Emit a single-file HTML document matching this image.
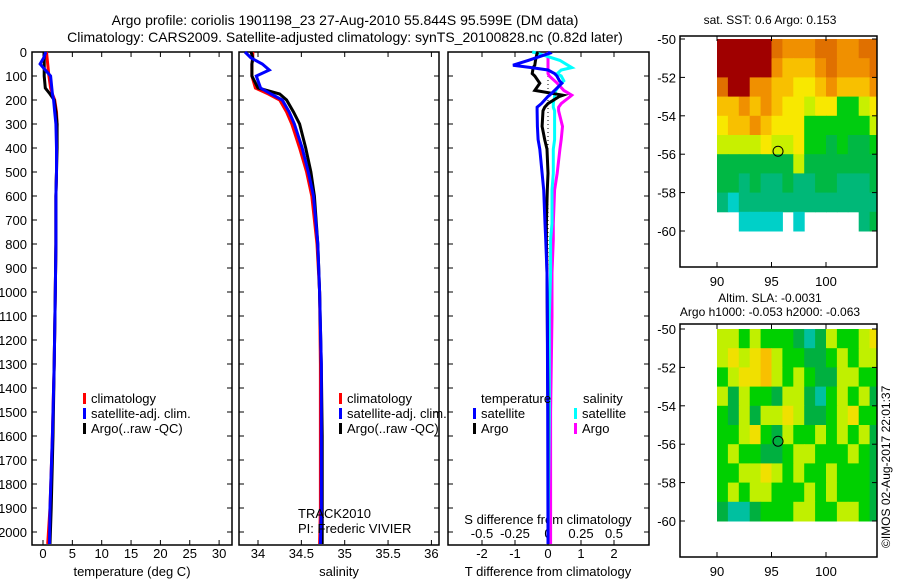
<!DOCTYPE html>
<html><head><meta charset="utf-8">
<style>
html,body{margin:0;padding:0;background:#fff;}
svg{display:block;font-family:"Liberation Sans",Arial,sans-serif;}
text{fill:#000;}
</style></head>
<body>
<svg id="fig" width="900" height="580" viewBox="0 0 900 580" xmlns="http://www.w3.org/2000/svg">
<defs>
<clipPath id="clip1"><rect x="680" y="36" width="197" height="231"/></clipPath>
<clipPath id="clip2"><rect x="680" y="324" width="197" height="233"/></clipPath>
</defs>
<text x="345" y="25" font-size="14" text-anchor="middle">Argo profile: coriolis 1901198_23 27-Aug-2010 55.844S 95.599E (DM data)</text>
<text x="345" y="42" font-size="14" text-anchor="middle">Climatology: CARS2009. Satellite-adjusted climatology: synTS_20100828.nc (0.82d later)</text>
<text x="770" y="24" font-size="12" text-anchor="middle">sat. SST: 0.6 Argo: 0.153</text>
<text x="770" y="302" font-size="12" text-anchor="middle">Altim. SLA: -0.0031</text>
<text x="770" y="316" font-size="12" text-anchor="middle">Argo h1000: -0.053 h2000: -0.063</text>
<text transform="translate(890,548) rotate(-90)" font-size="12">©IMOS 02-Aug-2017 22:01:37</text>
<g id="g"></g>
</svg>
<script>
// ---- data ----
const depths = [0,25,50,75,100,150,175,200,250,300,400,500,600,800,1000,1300,1600,1900,2050];
const tempClim = [0.6,0.7,0.8,0.9,1.0,1.3,1.6,2.0,2.3,2.4,2.3,2.3,2.2,2.2,2.1,1.9,1.6,1.2,0.8];
const tempSat  = [0.5,0.1,-0.5,0.4,1.3,1.5,1.6,1.8,2.0,2.2,2.3,2.3,2.2,2.2,2.1,1.9,1.6,1.2,1.1];
const tempArgo = [0.3,0.2,0.2,0.2,0.2,0.4,1.2,1.9,2.2,2.4,2.4,2.3,2.2,2.2,2.1,1.9,1.7,1.4,1.2];
const salClim = [33.94,33.94,33.93,33.93,33.93,33.97,34.12,34.25,34.33,34.39,34.48,34.56,34.62,34.68,34.71,34.72,34.72,34.72,34.71];
const salSat  = [33.85,33.92,34.05,34.13,33.98,34.03,34.15,34.28,34.36,34.42,34.51,34.58,34.64,34.69,34.71,34.73,34.73,34.73,34.72];
const salArgo = [33.92,33.94,33.93,33.93,33.93,34.0,34.25,34.33,34.41,34.48,34.55,34.61,34.65,34.69,34.71,34.73,34.74,34.74,34.74];
const diffDepths = [0,5,35,55,65,75,90,100,120,130,160,180,185,215,230,245,310,365,405,505,575,715,780,920,1100,1500,2050];
const dTsat  = [0.0,0.05,-0.6,-1.06,-0.5,0.0,0.2,0.27,0.35,0.42,0.2,0.05,0.0,-0.2,-0.33,-0.33,-0.32,-0.3,-0.25,-0.18,-0.13,-0.09,-0.07,-0.03,-0.02,-0.01,0.0];
const dTargo = [-0.3,-0.33,-0.38,-0.4,-0.45,-0.46,-0.48,-0.4,-0.3,-0.25,-0.4,0.45,0.35,0.0,-0.1,-0.15,-0.18,-0.1,-0.03,0.0,-0.02,-0.05,-0.05,-0.03,-0.02,0.0,0.0];
const dSsat  = [-0.12,-0.08,0.09,0.15,0.18,0.1,0.07,0.1,0.12,0.1,0.06,0.05,0.05,0.04,0.04,0.05,0.05,0.05,0.04,0.04,0.03,0.03,0.02,0.02,0.01,0.01,0.0];
const dSargo = [0.0,0.0,0.0,0.0,0.0,0.0,0.0,0.01,0.05,0.07,0.12,0.18,0.17,0.1,0.08,0.08,0.11,0.1,0.09,0.07,0.05,0.04,0.04,0.03,0.03,0.02,0.02];
const depthTicks = [0,100,200,300,400,500,600,700,800,900,1000,1100,1200,1300,1400,1500,1600,1700,1800,1900,2000];
const tempTicks = [0,5,10,15,20,25,30];
const salTicks = [34,34.5,35,35.5,36];
const salTickLabels = ["34","34.5","35","35.5","36"];
const tdTicks = [-2,-1,0,1,2];
const sdTicks = [-0.5,-0.25,0,0.25,0.5];
const sdTickLabels = ["-0.5","-0.25","0","0.25","0.5"];
const latTicks = [-50,-52,-54,-56,-58,-60];
const lonTicks = [90,95,100];
// SST map categories (NaN = -1), rows lat -50..-59, cols lon 90..104
const sstGrid = [
[9,9,9,9,9,8,7,7,7,8,8,7,7,8,8],
[9,9,9,9,9,7,6,6,6,7,8,7,7,7,8],
[8,9,9,7,7,6,6,5,5,6,7,6,6,6,7],
[6,6,7,6,7,6,5,5,4,5,5,3,3,4,5],
[5,6,6,7,6,5,5,5,3,3,3,3,3,3,4],
[4,4,4,4,5,4,4,5,3,3,2,3,2,2,3],
[2,2,2,2,2,2,2,4,2,2,2,2,2,2,2],
[2,2,1,2,1,1,2,1,1,2,2,1,1,1,2],
[1,0,1,1,1,1,1,1,1,1,1,1,1,1,1],
[-1,-1,0,0,0,0,-1,0,-1,-1,-1,-1,-1,1,2]];
const slaGrid = [
[4,4,3,4,3,3,3,2,1,2,4,3,3,4,5],
[4,5,4,5,6,4,3,3,2,2,3,4,3,4,4],
[3,4,5,5,6,4,3,4,3,2,2,4,4,3,3],
[4,2,4,3,3,2,4,4,2,1,3,4,3,4,2],
[3,2,4,2,4,4,5,4,2,2,3,4,5,3,3],
[3,3,4,5,3,2,4,3,3,4,3,4,3,4,2],
[3,4,3,3,2,2,3,4,4,3,3,3,4,3,2],
[3,3,4,4,5,4,3,4,3,3,4,3,3,3,2],
[3,4,3,4,4,3,3,3,4,3,4,3,3,3,2],
[2,1,1,2,3,3,3,4,4,3,3,4,4,3,2]];
// ---- drawing ----
const NS="http://www.w3.org/2000/svg";
const G=document.getElementById('g');
function mk(tag,attrs,parent){const e=document.createElementNS(NS,tag);for(const k in attrs)e.setAttribute(k,attrs[k]);(parent||G).appendChild(e);return e;}
const yD=d=>52+d*0.24;
const xT=v=>43+v*5.87;
const xS=v=>258+(v-34)*86.7;
const xTD=v=>548+v*33;
const xSD=v=>548+v*132;
const panels=[[32,232],[239,439],[448,649]];
const TOP=52,BOT=545;
panels.forEach((p,i)=>{
  const r=mk('rect',{x:p[0],y:TOP,width:p[1]-p[0],height:BOT-TOP,fill:'none',stroke:'#000','stroke-width':1.5});
  
  
  depthTicks.forEach(d=>{
    mk('line',{x1:p[0],x2:p[0]+5,y1:yD(d),y2:yD(d),stroke:'#000'});
    mk('line',{x1:p[1]-5,x2:p[1],y1:yD(d),y2:yD(d),stroke:'#000'});
  });
});
depthTicks.forEach(d=>{
  const t=mk('text',{x:27,y:yD(d)+5,'font-size':13,'text-anchor':'end'});t.textContent=d;
  
  
});
function xticks(ticks,labels,fx,y,tickTop,tickBot){
  ticks.forEach((v,i)=>{
    const x=fx(v);
    if(tickTop)mk('line',{x1:x,x2:x,y1:TOP,y2:TOP+5,stroke:'#000'});
    if(tickBot)mk('line',{x1:x,x2:x,y1:BOT-5,y2:BOT,stroke:'#000'});
    const t=mk('text',{x:x,y:y,'font-size':13,'text-anchor':'middle'});t.textContent=labels[i];
    
    
  });
}
xticks(tempTicks,tempTicks.map(String),xT,558,true,true);
xticks(salTicks,salTickLabels,xS,558,true,true);
xticks(tdTicks,tdTicks.map(String),xTD,558,true,true);
xticks(sdTicks,sdTickLabels,xSD,538,false,false);
function lab(x,y,s,name,anchor){const t=mk('text',{x:x,y:y,'font-size':13,'text-anchor':anchor||'middle'});t.textContent=s;return t;}
lab(132,576,'temperature (deg C)','x-axis-title-temperature');
lab(339,576,'salinity','x-axis-title-salinity');
lab(548,576,'T difference from climatology','x-axis-title-t-diff');
lab(548,524,'S difference from climatology','axis-title-s-diff');
mk('line',{x1:548,x2:548,y1:yD(100),y2:yD(1000),stroke:'#000','stroke-dasharray':'1 3'});
function line(xs,fx,dep,color,name,w){
  const pts=xs.map((v,i)=>fx(v).toFixed(1)+','+yD(dep[i]).toFixed(1)).join(' ');
  const l=mk('polyline',{points:pts,fill:'none',stroke:color,'stroke-width':w||3,'stroke-linejoin':'miter'});
  
  
}
line(tempClim,xT,depths,'#ff0000','temp-climatology-line');
line(tempArgo,xT,depths,'#000000','temp-argo-line');
line(tempSat,xT,depths,'#0000ff','temp-satellite-line');
line(salClim,xS,depths,'#ff0000','sal-climatology-line');
line(salArgo,xS,depths,'#000000','sal-argo-line');
line(salSat,xS,depths,'#0000ff','sal-satellite-line');
line(dSargo,xSD,diffDepths,'#ff00ff','s-diff-argo-line');
line(dSsat,xSD,diffDepths,'#00ffff','s-diff-satellite-line');
line(dTargo,xTD,diffDepths,'#000000','t-diff-argo-line');
line(dTsat,xTD,diffDepths,'#0000ff','t-diff-satellite-line');
function leg(x,y,color,s,name){
  mk('rect',{x:x,y:y-10,width:3,height:11,fill:color});
  lab(x+8,y,s,name,'start');
}
[[83],[339]].forEach((p,i)=>{
  leg(p[0],403,'#ff0000','climatology','legend-climatology-'+(i+1));
  leg(p[0],418,'#0000ff','satellite-adj. clim.','legend-satellite-'+(i+1));
  leg(p[0],433,'#000000','Argo(..raw -QC)','legend-argo-'+(i+1));
});
lab(481,403,'temperature','legend-title-temperature','start');
leg(473,418,'#0000ff','satellite','legend-t-satellite');
leg(473,433,'#000000','Argo','legend-t-argo');
lab(583,403,'salinity','legend-title-salinity','start');
leg(574,418,'#00ffff','satellite','legend-s-satellite');
leg(574,433,'#ff00ff','Argo','legend-s-argo');
lab(298,518,'TRACK2010','track-label','start');
lab(298,533,'PI: Frederic VIVIER','pi-label','start');
const sstColors=['#00d0c8','#00b878','#00b844','#00cc10','#c8f000','#f8e800','#f8c000','#f09000','#e07000','#a00000'];
const slaColors=['#00b8a0','#00c0a0','#00b040','#00d000','#c0f000','#f0e000','#f8c000'];
function drawMap(grid,colors,frameTop,frameBot,lat50,name,clip){
  const lonX=v=>717+(v-90)*10.9;
  const latY=v=>lat50+(-50-v)*19.2;
  const mg=mk('g',{'clip-path':'url(#'+clip+')'});
  
  
  grid.forEach((row,r)=>row.forEach((v,c)=>{
    if(v<0)return;
    mk('rect',{x:lonX(90+c).toFixed(1),y:latY(-50-r).toFixed(1),width:11.4,height:19.7,fill:colors[v]},mg);
  }));
  mk('rect',{x:680,y:frameTop,width:197,height:frameBot-frameTop,fill:'none',stroke:'#000','stroke-width':1.5});
  latTicks.forEach(l=>{
    const y=latY(l);
    mk('line',{x1:680,x2:685,y1:y,y2:y,stroke:'#000'});
    mk('line',{x1:872,x2:877,y1:y,y2:y,stroke:'#000'});
    lab(676,y+5,String(l),'lat-tick-label','end');
  });
  lonTicks.forEach(l=>{
    const x=lonX(l);
    mk('line',{x1:x,x2:x,y1:frameTop,y2:frameTop+5,stroke:'#000'});
    mk('line',{x1:x,x2:x,y1:frameBot-5,y2:frameBot,stroke:'#000'});
    lab(x,frameBot+19,String(l),'lon-tick-label');
  });
  const c=mk('circle',{cx:lonX(95.599),cy:latY(-55.844),r:5,fill:'none',stroke:'#000','stroke-width':1});
  
  
}
drawMap(sstGrid,sstColors,36,267,39,'sst-map','clip1');
drawMap(slaGrid,slaColors,324,557,329,'sla-map','clip2');
</script>
</body></html>
